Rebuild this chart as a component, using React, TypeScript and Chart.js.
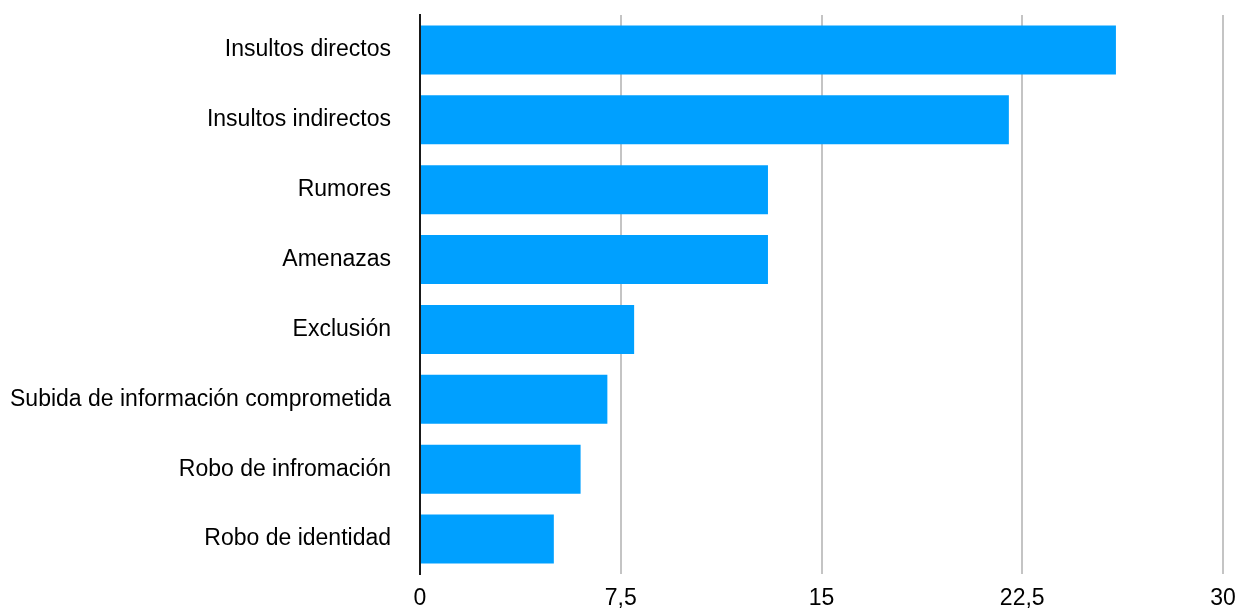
import React, { useEffect, useRef } from "react";
import { Chart, registerables } from "chart.js";

Chart.register(...registerables);

const categories = [
  "Insultos directos",
  "Insultos indirectos",
  "Rumores",
  "Amenazas",
  "Exclusión",
  "Subida de información comprometida",
  "Robo de infromación",
  "Robo de identidad",
];
const values = [26, 22, 13, 13, 8, 7, 6, 5];
const xTickLabels = ["0", "7,5", "15", "22,5", "30"];

export default function App() {
  const ref = useRef<HTMLCanvasElement | null>(null);
  useEffect(() => {
    document.body.style.margin = "0";
    const font = { family: "'Liberation Sans', Arial, Helvetica, sans-serif", size: 23 };
    const chart = new Chart(ref.current!, {
      type: "bar",
      data: {
        labels: categories,
        datasets: [
          {
            data: values,
            backgroundColor: "#00a0ff",
            borderWidth: 0,
            categoryPercentage: 0.7,
            barPercentage: 1,
          },
        ],
      },
      options: {
        indexAxis: "y",
        animation: false,
        responsive: false,
        maintainAspectRatio: false,
        layout: { padding: { left: 0, right: 14, top: 15, bottom: 0 } },
        plugins: { legend: { display: false }, tooltip: { enabled: false } },
        scales: {
          x: {
            min: 0,
            max: 30,
            afterFit: (s: any) => {
              s.height = 35;
              s.paddingLeft = 0;
              s.paddingRight = 0;
            },
            ticks: {
              stepSize: 7.5,
              color: "#000",
              font,
              padding: 11,
              maxRotation: 0,
              callback: (_v: any, i: number) => xTickLabels[i],
            },
            grid: { color: "#c4c4c4", lineWidth: 2, drawTicks: false },
            border: { display: false },
          },
          y: {
            afterFit: (s: any) => {
              s.width = 420;
              s.paddingTop = 0;
              s.paddingBottom = 0;
            },
            ticks: { color: "#000", font, padding: 29 },
            grid: { display: false, drawTicks: false },
            border: { display: true, color: "#1a1a1a", width: 2 },
          },
        },
      },
    });
    return () => chart.destroy();
  }, []);
  return (
    <div style={{ width: 1237, height: 609 }}>
      <canvas ref={ref} width={1237} height={609} style={{ display: "block" }} />
    </div>
  );
}
